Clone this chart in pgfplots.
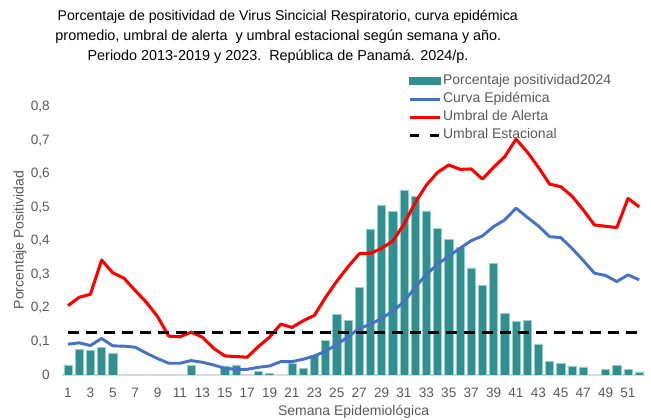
\documentclass[border=0pt]{standalone}
\usepackage{pgfplots}
\pgfplotsset{compat=1.18}
\usepackage{pgfplotstable}
\usepackage{fontspec}
\setmainfont{Liberation Sans}
\definecolor{barc}{RGB}{49,143,143}
\definecolor{baredge}{RGB}{150,205,205}
\definecolor{epic}{RGB}{68,114,196}
\definecolor{txtg}{RGB}{89,89,89}

\pgfplotstableread{
w v
1 0.030
2 0.077
3 0.073
4 0.083
5 0.066
12 0.028
15 0.027
16 0.030
18 0.012
19 0.005
21 0.035
22 0.020
23 0.058
24 0.104
25 0.181
26 0.163
27 0.261
28 0.436
29 0.508
30 0.489
31 0.551
32 0.533
33 0.490
34 0.438
35 0.405
36 0.381
37 0.320
38 0.267
39 0.334
40 0.183
41 0.159
42 0.164
43 0.093
44 0.041
45 0.034
46 0.027
47 0.024
49 0.017
50 0.028
51 0.016
52 0.009
}\bars

\pgfplotstableread{
w e a
1 0.092 0.207
2 0.096 0.232
3 0.088 0.241
4 0.109 0.343
5 0.087 0.305
6 0.086 0.289
7 0.083 0.252
8 0.065 0.217
9 0.049 0.174
10 0.035 0.116
11 0.035 0.114
12 0.043 0.128
13 0.038 0.113
14 0.030 0.080
15 0.020 0.057
16 0.017 0.055
17 0.017 0.053
18 0.023 0.085
19 0.027 0.113
20 0.040 0.152
21 0.040 0.142
22 0.047 0.162
23 0.057 0.178
24 0.071 0.232
25 0.091 0.280
26 0.114 0.323
27 0.139 0.362
28 0.151 0.363
29 0.169 0.378
30 0.190 0.400
31 0.219 0.450
32 0.262 0.515
33 0.300 0.567
34 0.331 0.605
35 0.355 0.627
36 0.378 0.614
37 0.401 0.615
38 0.415 0.585
39 0.443 0.620
40 0.463 0.652
41 0.498 0.704
42 0.471 0.666
43 0.445 0.620
44 0.413 0.570
45 0.410 0.562
46 0.378 0.534
47 0.342 0.493
48 0.304 0.448
49 0.297 0.444
50 0.279 0.440
51 0.299 0.527
52 0.284 0.502
}\curves

\begin{document}
\begin{tikzpicture}
\path[use as bounding box] (-46.8pt,-33.75pt) rectangle (441.45pt,281.25pt);
\begin{axis}[
  scale only axis,
  width=436.8pt, height=201pt,
  at={(0,0)}, anchor=south west,
  xmin=0.5, xmax=52.5, ymin=0, ymax=0.8,
  xtick={1,3,...,51},
  ytick={0,0.1,0.2,0.3,0.4,0.5,0.6,0.7,0.8},
  yticklabel style={xshift=-6pt, /pgf/number format/fixed, /pgf/number format/precision=1, /pgf/number format/use comma, /pgf/number format/assume math mode=true},
  xticklabel style={yshift=-6pt, /pgf/number format/assume math mode=true},
  tick label style={font=\fontsize{10.2}{12}\selectfont, text=txtg},
  tick style={draw=none},
  axis x line*=bottom, axis y line*=left,
  x axis line style={draw=gray!30, line width=0.8pt, -},
  y axis line style={draw=none},
  xlabel={Semana Epidemiológica},
  ylabel={Porcentaje Positividad},
  label style={font=\fontsize{10.5}{12.6}\selectfont, text=txtg},
  xlabel style={at={(axis description cs:0.5,-0.136)}, anchor=center},
  ylabel style={at={(axis description cs:-0.073,0.504)}, anchor=center},
  legend style={at={(axis description cs:0.593,1.126)}, anchor=north west,
    draw=none, fill=none, font=\fontsize{10.5}{12.6}\selectfont, text=txtg,
    row sep=2pt, inner sep=0pt, cells={anchor=west},
    nodes={inner sep=1pt, text height=7.5pt, text depth=2pt}},
  legend cell align=left,
]
\addplot[ybar, bar width=0.72, fill=barc, draw=baredge, line width=0.4pt,
  legend image code/.code={\fill[barc] (0pt,-2.6pt) rectangle (23pt,2.6pt);}]
  table[x=w,y=v] {\bars};
\addlegendentry{Porcentaje positividad2024}
\addplot[epic, line width=2.2pt, line join=round,
  legend image code/.code={\draw[epic,line width=2.2pt] (0pt,0pt) -- (23pt,0pt);}]
  table[x=w,y=e] {\curves};
\addlegendentry{Curva Epidémica}
\addplot[red, line width=2.3pt, line join=round,
  legend image code/.code={\draw[red,line width=2.3pt] (0pt,0pt) -- (23pt,0pt);}]
  table[x=w,y=a] {\curves};
\addlegendentry{Umbral de Alerta}
\addplot[black, line width=2.2pt, dash pattern=on 8pt off 5.5pt,
  legend image code/.code={\draw[black,line width=2.2pt,dash pattern=on 7pt off 8pt] (0pt,0pt) -- (23pt,0pt);}]
  coordinates {(1,0.128) (52,0.128)};
\addlegendentry{Umbral Estacional}
\end{axis}
\begin{scope}[every node/.style={anchor=base, inner sep=0pt, text=black}]
\node[font=\fontsize{10.6}{12}\selectfont] at (169pt,265.5pt)
  {Porcentaje de positividad de Virus Sincicial Respiratorio, curva epidémica};
\node[font=\fontsize{10.8}{12}\selectfont] at (162pt,250.5pt)
  {promedio, umbral de alerta\ \ y umbral estacional según semana y año.};
\node[font=\fontsize{10.8}{12}\selectfont] at (161.7pt,236.0pt)
  {Periodo 2013-2019 y 2023.\ \ República de Panamá. 2024/p.};
\end{scope}
\end{tikzpicture}
\end{document}
